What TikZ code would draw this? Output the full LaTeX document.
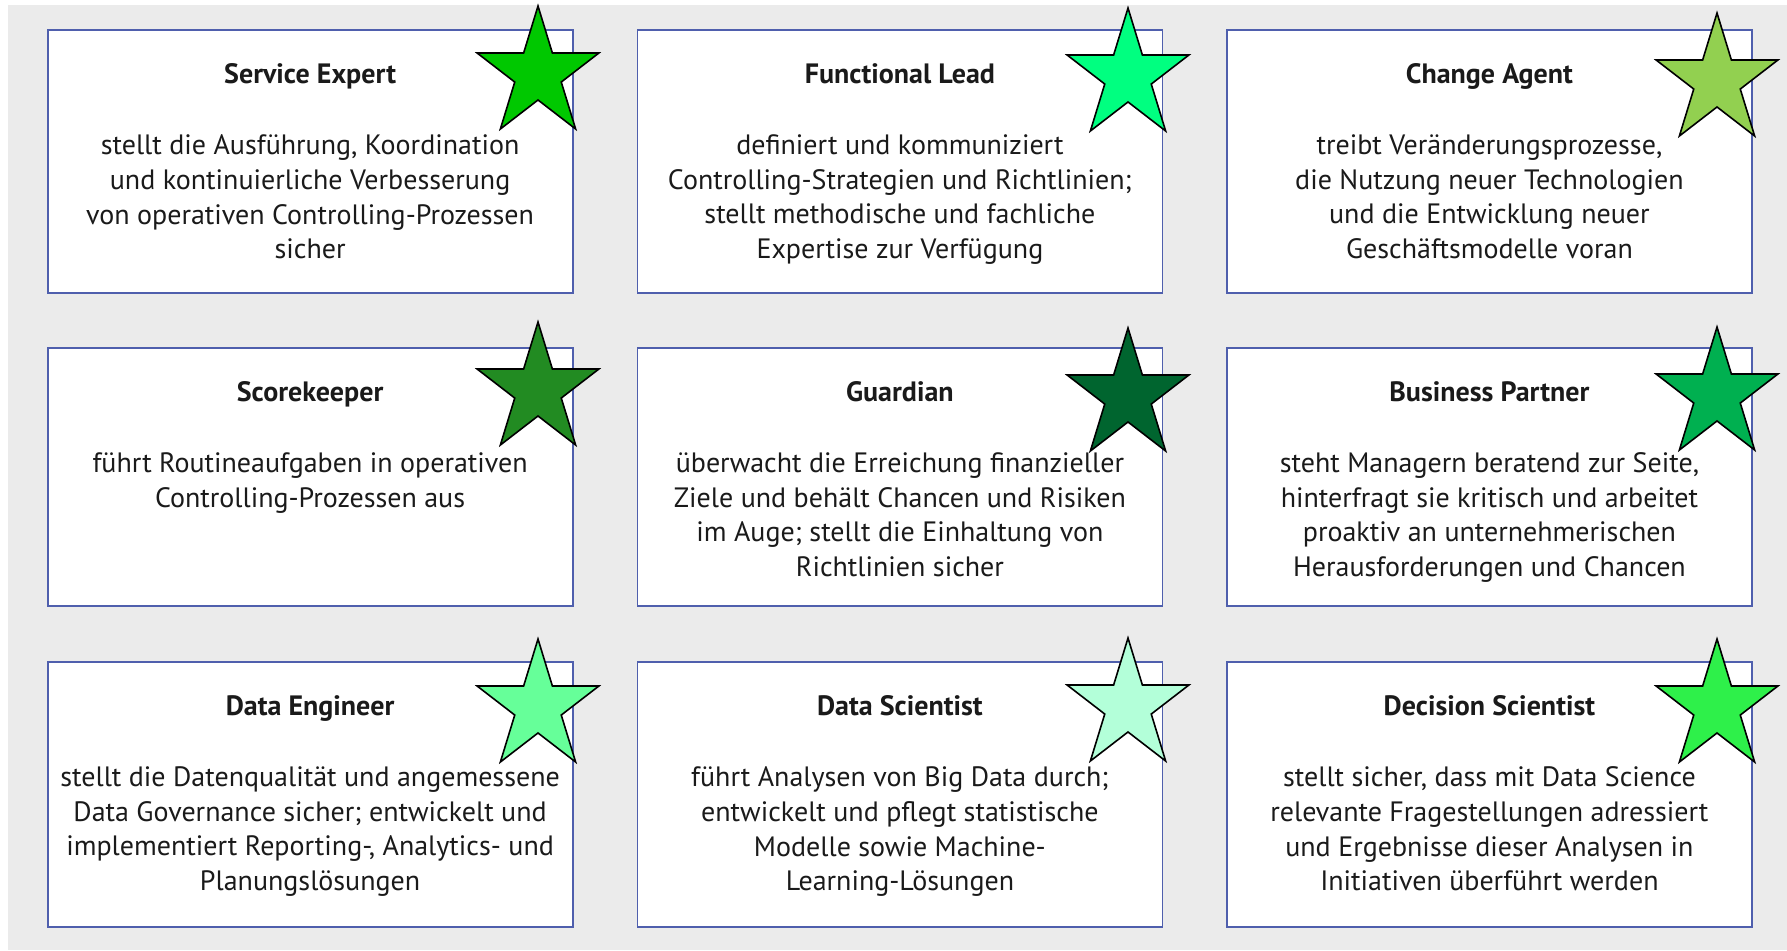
\documentclass[tikz,border=0pt]{standalone}
\usepackage{fontspec}
\setmainfont{PT Sans}
\usetikzlibrary{positioning,shapes.geometric}

\definecolor{bggray}{HTML}{EBEBEB}
\definecolor{boxblue}{HTML}{4F5FAD}
\definecolor{textdark}{HTML}{1A1A1A}
\definecolor{starA}{HTML}{00C800}
\definecolor{starB}{HTML}{00FF80}
\definecolor{starC}{HTML}{92D050}
\definecolor{starD}{HTML}{228B22}
\definecolor{starE}{HTML}{00652F}
\definecolor{starF}{HTML}{00B050}
\definecolor{starG}{HTML}{66FF99}
\definecolor{starH}{HTML}{B3FFD9}
\definecolor{starI}{HTML}{2EF04A}

\tikzset{
  rolebox/.style={draw=boxblue, line width=0.9pt, fill=white, minimum width=262.5pt, inner sep=0pt},
  roletitle/.style={font=\fontsize{14}{17.4}\selectfont\bfseries, text=textdark, inner sep=0pt},
  roletext/.style={font=\fontsize{14}{17.4}\selectfont, text=textdark, align=center, inner sep=0pt},
  rolestar/.style={star, star points=5, star point ratio=2.618, draw=black, line width=0.8pt, minimum size=66pt, inner sep=0pt, yscale=1.03, xscale=0.97},
}

\begin{document}
\begin{tikzpicture}[x=0.5pt, y=-0.5pt]
            \useasboundingbox (0,0) rectangle (1787,950);
            \fill[bggray] (8,5) rectangle (1787,950);

            % first row
            \node[rolebox, minimum height=131.5pt] (servexp) at (310.1,161.5) {};
            \node[rolebox, minimum height=131.5pt] (funclead) at (899.9,161.5) {};
            \node[rolebox, minimum height=131.5pt] (changeag) at (1489.4,161.5) {};

            \node[roletitle, below=16.8pt of servexp.north] (servexp-t) {Service Expert};
            \node[roletext, below=25.5pt of servexp-t.base] (servexp-b) {stellt die Ausführung, Koordination\\und kontinuierliche Verbesserung\\von operativen Controlling-Prozessen\\sicher};

            \node[roletitle, below=16.8pt of funclead.north] (funclead-t) {Functional Lead};
            \node[roletext, below=25.5pt of funclead-t.base] (funclead-b) {definiert und kommuniziert\\Controlling-Strategien und Richtlinien;\\stellt methodische und fachliche\\Expertise zur Verfügung};

            \node[roletitle, below=16.8pt of changeag.north] (changeag-t) {Change Agent};
            \node[roletext, below=25.5pt of changeag-t.base] (changeag-b) {treibt Veränderungsprozesse,\\die Nutzung neuer Technologien\\und die Entwicklung neuer\\Geschäftsmodelle voran};

            % second row
            \node[rolebox, minimum height=129pt] (scorekp) at (310.1,477) {};
            \node[rolebox, minimum height=129pt] (guardian) at (899.9,477) {};
            \node[rolebox, minimum height=129pt] (buspart) at (1489.4,477) {};

            \node[roletitle, below=16.8pt of scorekp.north] (scorekp-t) {Scorekeeper};
            \node[roletext, below=25.5pt of scorekp-t.base] (scorekp-b) {führt Routineaufgaben in operativen\\Controlling-Prozessen aus};

            \node[roletitle, below=16.8pt of guardian.north] (guardian-t) {Guardian};
            \node[roletext, below=25.5pt of guardian-t.base] (guardian-b) {überwacht die Erreichung finanzieller\\Ziele und behält Chancen und Risiken\\im Auge; stellt die Einhaltung von\\Richtlinien sicher};

            \node[roletitle, below=16.8pt of buspart.north] (buspart-t) {Business Partner};
            \node[roletext, below=25.5pt of buspart-t.base] (buspart-b) {steht Managern beratend zur Seite,\\hinterfragt sie kritisch und arbeitet\\proaktiv an unternehmerischen\\Herausforderungen und Chancen};

            % third row
            \node[rolebox, minimum height=132.5pt] (dataeng) at (310.1,794.5) {};
            \node[rolebox, minimum height=132.5pt] (datasci) at (899.9,794.5) {};
            \node[rolebox, minimum height=132.5pt] (decsci) at (1489.4,794.5) {};

            \node[roletitle, below=16.8pt of dataeng.north] (dataeng-t) {Data Engineer};
            \node[roletext, below=25.5pt of dataeng-t.base] (dataeng-b) {stellt die Datenqualität und angemessene\\Data Governance sicher; entwickelt und\\implementiert Reporting-, Analytics- und\\Planungslösungen};

            \node[roletitle, below=16.8pt of datasci.north] (datasci-t) {Data Scientist};
            \node[roletext, below=25.5pt of datasci-t.base] (datasci-b) {führt Analysen von Big Data durch;\\entwickelt und pflegt statistische\\Modelle sowie Machine-\\Learning-Lösungen};

            \node[roletitle, below=16.8pt of decsci.north] (decsci-t) {Decision Scientist};
            \node[roletext, below=25.5pt of decsci-t.base] (decsci-b) {stellt sicher, dass mit Data Science\\relevante Fragestellungen adressiert\\und Ergebnisse dieser Analysen in\\Initiativen überführt werden};

            % stars
            \node[rolestar, fill=starA] (star-servexp) at (538,74) {};
            \node[rolestar, fill=starB] (star-funclead) at (1128,76) {};
            \node[rolestar, fill=starC] (star-changeag) at (1717,81) {};
            \node[rolestar, fill=starD] (star-scorekp) at (538,390) {};
            \node[rolestar, fill=starE] (star-guardian) at (1128,396) {};
            \node[rolestar, fill=starF] (star-buspart) at (1717,395) {};
            \node[rolestar, fill=starG] (star-dataeng) at (538,707) {};
            \node[rolestar, fill=starH] (star-datasci) at (1128,706) {};
            \node[rolestar, fill=starI] (star-decsci) at (1717,707) {};
    \end{tikzpicture}
\end{document}
